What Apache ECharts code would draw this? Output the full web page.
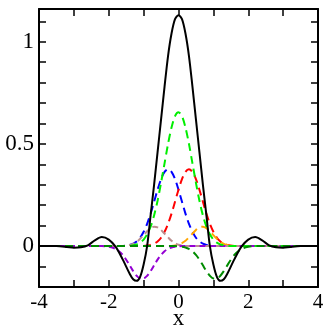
<!DOCTYPE html>
<html>
<head>
<meta charset="utf-8">
<title>curves</title>
<script src="https://cdn.jsdelivr.net/npm/echarts@6/dist/echarts.min.js"></script>
<style>
  html, body { margin: 0; padding: 0; background: #fff; }
  #chart { width: 327px; height: 334px; }
</style>
</head>
<body>
<div id="chart"></div>
<script>
// x positions shared by all curves
var xs = [-4, -3.5, -3.2, -3, -2.8, -2.6, -2.4, -2.2, -2, -1.8, -1.6, -1.4, -1.3, -1.2, -1.1, -1, -0.9, -0.8, -0.7, -0.6, -0.5, -0.4, -0.3, -0.2, -0.1,
          0, 0.1, 0.2, 0.3, 0.4, 0.5, 0.6, 0.7, 0.8, 0.9, 1, 1.1, 1.2, 1.3, 1.4, 1.6, 1.8, 2, 2.2, 2.4, 2.6, 2.8, 3, 3.2, 3.5, 4];

// values
var total = [0, 0, -0.004, -0.008, -0.006, 0.004, 0.028, 0.044, 0.032, -0.004, -0.065, -0.135, -0.162, -0.17, -0.15, -0.09, 0.0, 0.15, 0.3, 0.46, 0.62, 0.78, 0.93, 1.04, 1.11,
             1.13, 1.11, 1.04, 0.93, 0.78, 0.62, 0.46, 0.3, 0.15, 0.0, -0.09, -0.15, -0.17, -0.162, -0.135, -0.065, -0.004, 0.032, 0.044, 0.028, 0.004, -0.006, -0.008, -0.004, 0, 0];
var green = [0, 0, 0, 0, 0, 0, 0, 0, 0, 0, 0, 0.001, 0.004, 0.008, 0.017, 0.032, 0.058, 0.095, 0.15, 0.222, 0.31, 0.405, 0.5, 0.58, 0.636,
             0.655, 0.636, 0.58, 0.5, 0.405, 0.31, 0.222, 0.15, 0.095, 0.058, 0.032, 0.017, 0.008, 0.004, 0.001, 0, 0, 0, 0, 0, 0, 0, 0, 0, 0, 0];
var blue = [0, 0, 0, 0, 0, 0, 0, 0, 0, 0, 0.001, 0.006, 0.012, 0.023, 0.041, 0.07, 0.109, 0.159, 0.217, 0.276, 0.328, 0.363, 0.376, 0.363, 0.328,
            0.276, 0.217, 0.159, 0.109, 0.07, 0.041, 0.023, 0.012, 0.006, 0.003, 0.001, 0, 0, 0, 0, 0, 0, 0, 0, 0, 0, 0, 0, 0, 0, 0];
var red = [0, 0, 0, 0, 0, 0, 0, 0, 0, 0, 0, 0, 0, 0, 0, 0.001, 0.003, 0.006, 0.012, 0.023, 0.041, 0.07, 0.109, 0.159, 0.217,
           0.276, 0.328, 0.363, 0.376, 0.363, 0.328, 0.276, 0.217, 0.159, 0.109, 0.07, 0.041, 0.023, 0.012, 0.006, 0.001, 0, 0, 0, 0, 0, 0, 0, 0, 0, 0];
var orange = [0, 0, 0, 0, 0, 0, 0, 0, 0, 0, 0, 0, 0, 0, 0, 0, 0, 0, 0, 0, 0, 0, 0, 0.001, 0.003,
              0.007, 0.015, 0.026, 0.043, 0.061, 0.079, 0.092, 0.095, 0.088, 0.073, 0.054, 0.036, 0.021, 0.011, 0.005, 0.001, 0, 0, 0, 0, 0, 0, 0, 0, 0, 0];
var brown = [0, 0, 0, 0, 0, 0, 0, 0, 0, 0, 0.001, 0.005, 0.011, 0.021, 0.036, 0.054, 0.073, 0.088, 0.095, 0.092, 0.079, 0.061, 0.043, 0.026, 0.015,
             0.007, 0.003, 0.001, 0, 0, 0, 0, 0, 0, 0, 0, 0, 0, 0, 0, 0, 0, 0, 0, 0, 0, 0, 0, 0, 0, 0];
var violet = [0, 0, 0, 0, 0, 0, 0, 0, -0.003, -0.014, -0.043, -0.094, -0.122, -0.145, -0.158, -0.158, -0.145, -0.122, -0.094, -0.066, -0.043, -0.025, -0.014, -0.007, -0.003,
              -0.001, 0, 0, 0, 0, 0, 0, 0, 0, 0, 0, 0, 0, 0, 0, 0, 0, 0, 0, 0, 0, 0, 0, 0, 0, 0];
var green4 = [0, 0, 0, 0, 0, 0, 0, 0, 0, 0, 0, 0, 0, 0, 0, 0, 0, 0, 0, 0, 0, 0, 0, 0, 0,
              -0.001, -0.003, -0.007, -0.014, -0.025, -0.043, -0.066, -0.094, -0.122, -0.145, -0.158, -0.158, -0.145, -0.122, -0.094, -0.043, -0.014, -0.003, 0, 0, 0, 0, 0, 0, 0, 0];

function pairs(ys) {
    var out = [];
    for (var i = 0; i < xs.length; i++) out.push([xs[i], ys[i]]);
    return out;
}

function dashed(name, ys, color, dash) {
    return {
        name: name, type: 'line', data: pairs(ys), smooth: 0.3,
        showSymbol: false, symbol: 'none',
        lineStyle: { color: color, width: 2, type: dash }
    };
}

var font = 'Liberation Serif';

var xBase = {
    type: 'value', min: -4, max: 4, interval: 1,
    axisLine: { onZero: false, lineStyle: { color: '#000', width: 2 } },
    axisTick: { inside: true, length: 7, lineStyle: { color: '#000', width: 1.5 } },
    splitLine: { show: false }
};
var yBase = {
    type: 'value', min: -0.2, max: 1.16, interval: 0.1,
    axisLine: { onZero: false, lineStyle: { color: '#000', width: 2 } },
    axisTick: { inside: true, length: 7, lineStyle: { color: '#000', width: 1.5 } },
    splitLine: { show: false }
};

var myChart = echarts.init(document.getElementById('chart'));
var option = {
    animation: false,
    backgroundColor: '#fff',
    grid: { left: 39, right: 9, top: 9, bottom: 47, containLabel: false, outerBoundsMode: 'none' },
    xAxis: [
        Object.assign({}, xBase, {
            position: 'bottom',
            name: 'x', nameLocation: 'middle', nameGap: 20, nameMoveOverlap: false,
            nameTextStyle: { fontFamily: font, fontSize: 23, color: '#000' },
            axisLabel: {
                fontFamily: font, fontSize: 21, color: '#000', margin: 5,
                formatter: function (v) { return Math.round(v) % 2 === 0 ? String(v) : ''; }
            }
        }),
        Object.assign({}, xBase, { position: 'top', axisLabel: { show: false } })
    ],
    yAxis: [
        Object.assign({}, yBase, {
            position: 'left',
            axisLabel: {
                fontFamily: font, fontSize: 23, color: '#000', margin: 5,
                formatter: function (v) {
                    if (Math.abs(v) < 1e-6) return '0';
                    if (Math.abs(v - 0.5) < 1e-6) return '0.5';
                    if (Math.abs(v - 1) < 1e-6) return '1';
                    return '';
                }
            }
        }),
        Object.assign({}, yBase, { position: 'right', axisLabel: { show: false } })
    ],
    series: [
        dashed('blue', blue, '#0000ff', [8, 5]),
        dashed('red', red, '#ff0000', [8, 5]),
        dashed('orange', orange, '#ffa500', [8, 5]),
        dashed('brown', brown, '#bc8f8f', [6, 4]),
        dashed('violet', violet, '#9400d3', [6, 4]),
        dashed('green', green, '#00ee00', [8, 5]),
        dashed('green4', green4, '#008b00', [8, 5]),
        {
            name: 'total', type: 'line', data: pairs(total), smooth: 0.3,
            showSymbol: false, symbol: 'none',
            lineStyle: { color: '#000', width: 2 }
        }
    ]
};
myChart.setOption(option);
</script>
</body>
</html>
